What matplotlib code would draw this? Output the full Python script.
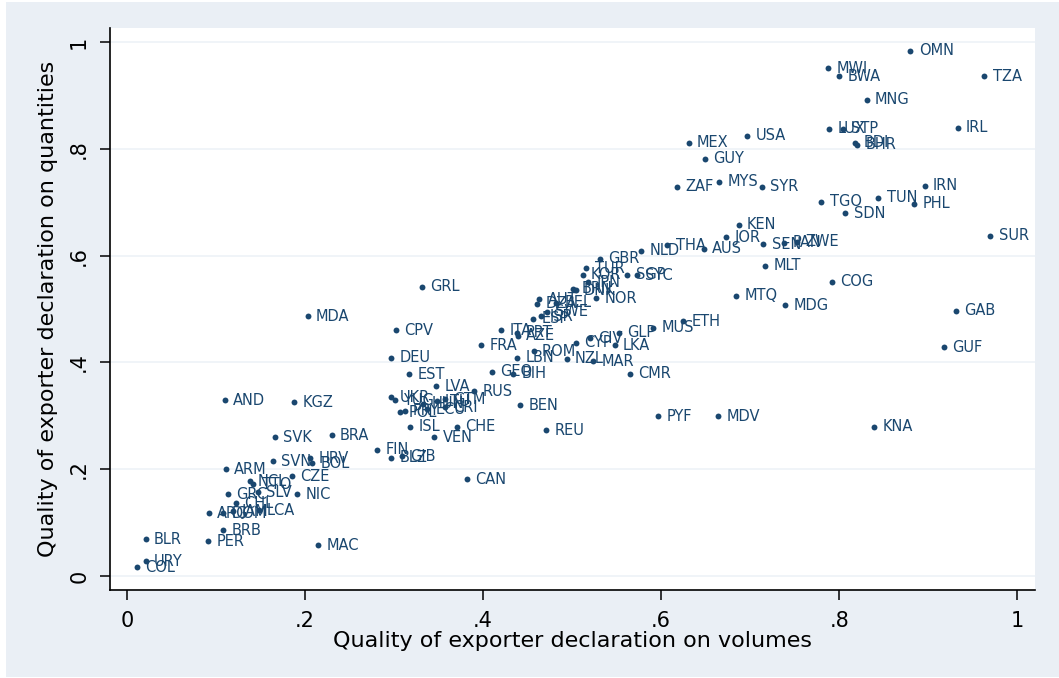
import matplotlib
matplotlib.use("Agg")
import matplotlib.pyplot as plt
from matplotlib.patches import Rectangle

# exporter codes and quality scores
codes = ["OMN", "MWI", "BWA", "TZA", "MNG", "IRL", "LUX", "STP", "BDI", "BHR",
         "MEX", "USA", "GUY", "ZAF", "MYS", "SYR", "TGO", "SDN", "TUN", "IRN",
         "PHL", "KEN", "JOR", "SEN", "PAN", "ZWE", "SUR", "THA", "AUS", "NLD",
         "GBR", "MLT", "COG", "MTQ", "MDG", "GAB", "GUF", "KNA", "ETH", "MUS",
         "GLP", "CYP", "CIV", "LKA", "NZL", "MAR", "CMR", "PYF", "MDV", "REU",
         "BEN", "CAN", "RUS", "LVA", "EST", "GEO", "BIH", "LBN", "ROM", "FRA",
         "ITA", "PRT", "AZE", "ESP", "ISR", "AUT", "DZA", "BEL", "NOR", "SWE",
         "BRN", "DNK", "JPN", "TUR", "KOR", "SGP", "SYC", "GRL", "MDA", "CPV",
         "DEU", "AND", "KGZ", "SVK", "BRA", "FIN", "BLZ", "GIB", "VEN", "CHE",
         "ISL", "UKR", "YUG", "LTU", "GTM", "POL", "PRY", "HUN", "ECU", "CRI",
         "ARM", "SVN", "HRV", "BOL", "CZE", "GRC", "SLV", "NIC", "NCL", "TTO",
         "CHL", "LCA", "ARG", "DOM", "JAM", "BRB", "PER", "MAC", "BLR", "URY",
         "COL"]

volumes = [0.880, 0.788, 0.800, 0.963, 0.831, 0.933, 0.789, 0.804, 0.818, 0.820,
           0.631, 0.697, 0.649, 0.618, 0.665, 0.713, 0.780, 0.807, 0.844, 0.896,
           0.884, 0.687, 0.673, 0.715, 0.738, 0.753, 0.970, 0.607, 0.648, 0.578,
           0.531, 0.717, 0.792, 0.684, 0.739, 0.931, 0.918, 0.839, 0.625, 0.591,
           0.553, 0.504, 0.520, 0.548, 0.494, 0.524, 0.565, 0.597, 0.664, 0.471,
           0.442, 0.382, 0.390, 0.347, 0.317, 0.410, 0.434, 0.438, 0.457, 0.398,
           0.420, 0.438, 0.439, 0.456, 0.465, 0.463, 0.461, 0.482, 0.527, 0.472,
           0.501, 0.504, 0.518, 0.516, 0.512, 0.562, 0.573, 0.331, 0.203, 0.302,
           0.297, 0.110, 0.188, 0.166, 0.230, 0.281, 0.297, 0.309, 0.345, 0.371,
           0.318, 0.297, 0.301, 0.348, 0.357, 0.307, 0.312, 0.333, 0.337, 0.357,
           0.111, 0.164, 0.206, 0.208, 0.185, 0.113, 0.147, 0.191, 0.138, 0.142,
           0.122, 0.148, 0.092, 0.108, 0.119, 0.108, 0.091, 0.215, 0.021, 0.021,
           0.011]

quantities = [0.983, 0.951, 0.936, 0.936, 0.892, 0.839, 0.837, 0.837, 0.811, 0.807,
              0.811, 0.824, 0.781, 0.729, 0.738, 0.729, 0.701, 0.679, 0.708, 0.731,
              0.697, 0.658, 0.634, 0.621, 0.624, 0.626, 0.637, 0.619, 0.613, 0.609,
              0.594, 0.581, 0.551, 0.525, 0.507, 0.497, 0.428, 0.280, 0.477, 0.465,
              0.456, 0.437, 0.445, 0.432, 0.407, 0.402, 0.379, 0.299, 0.299, 0.273,
              0.320, 0.181, 0.346, 0.355, 0.378, 0.383, 0.379, 0.409, 0.421, 0.432,
              0.460, 0.456, 0.450, 0.482, 0.486, 0.518, 0.510, 0.512, 0.520, 0.495,
              0.538, 0.535, 0.550, 0.576, 0.564, 0.564, 0.563, 0.542, 0.486, 0.460,
              0.409, 0.329, 0.325, 0.260, 0.264, 0.237, 0.222, 0.224, 0.260, 0.280,
              0.280, 0.335, 0.329, 0.327, 0.331, 0.307, 0.310, 0.323, 0.312, 0.316,
              0.200, 0.215, 0.221, 0.211, 0.187, 0.153, 0.157, 0.153, 0.178, 0.172,
              0.136, 0.123, 0.118, 0.118, 0.121, 0.086, 0.065, 0.058, 0.069, 0.028,
              0.017]

ticks = [0, 0.2, 0.4, 0.6, 0.8, 1.0]
tick_labels = ["0", ".2", ".4", ".6", ".8", "1"]

navy = "#1a476f"
bg = "#eaeff5"

plt.rcParams['font.family'] = ['DejaVu Sans']

fig = plt.figure(figsize=(10.59, 6.78), dpi=100)
fig.patch.set_facecolor("white")
fig.patches.append(Rectangle((6 / 1059, 1 / 678), 1, 675 / 678, transform=fig.transFigure,
                             facecolor=bg, edgecolor="none", zorder=-1))

ax = fig.add_axes([110 / 1059, 88 / 678, 925 / 1059, 562 / 678])
ax.set_facecolor("white")

ax.scatter(volumes, quantities, s=18, color=navy, zorder=3, linewidths=0)
for c, x, y in zip(codes, volumes, quantities):
	ax.annotate(c, (x, y), xytext=(6, 0), textcoords="offset points",
	            ha="left", va="center", fontsize=10.5, color=navy, zorder=4)

ax.set_xlim(-0.019, 1.020)
ax.set_ylim(-0.026, 1.026)

ax.set_xticks(ticks)
ax.set_xticklabels(tick_labels)
ax.set_yticks(ticks)
ax.set_yticklabels(tick_labels, rotation=90, va="center")

ax.grid(axis="y", color="#eef2f7", linewidth=1.2, zorder=0)
ax.set_axisbelow(True)

ax.spines["top"].set_visible(False)
ax.spines["right"].set_visible(False)
ax.spines["left"].set_linewidth(1.2)
ax.spines["bottom"].set_linewidth(1.2)
ax.tick_params(axis="both", direction="out", length=7, width=1.1, labelsize=15, pad=8)

ax.set_xlabel("Quality of exporter declaration on volumes", fontsize=16, labelpad=0)
ax.set_ylabel("Quality of exporter declaration on quantities", fontsize=16, labelpad=8)

fig.savefig("out.png", dpi=100)
